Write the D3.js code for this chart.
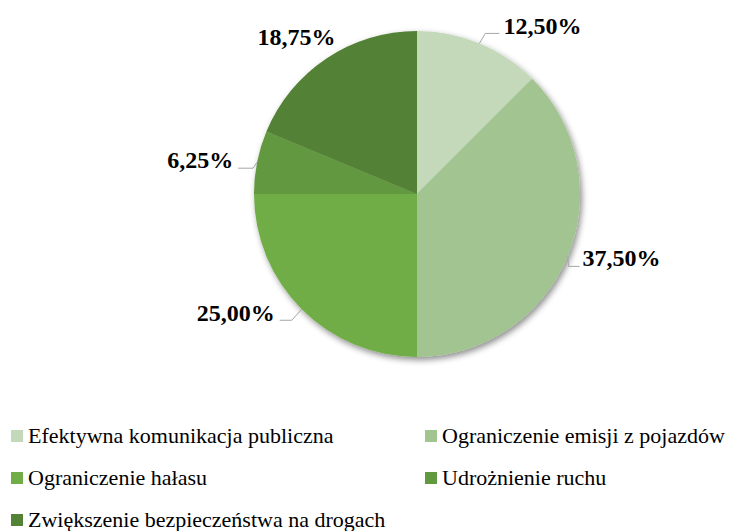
<!DOCTYPE html>
<html lang="pl">
<head>
<meta charset="utf-8">
<script src="https://cdn.jsdelivr.net/npm/d3@7"></script>
<style>
  body { margin: 0; background: #fff; }
  #chart { position: relative; width: 751px; height: 531px; }
  #chart svg { position: absolute; left: 0; top: 0; display: block; }
  .txt { position: absolute; white-space: nowrap; color: #000; line-height: 1;
         font-family: "Liberation Serif", "Times New Roman", serif; }
</style>
</head>
<body>
<div id="chart"></div>
<script>
// dane wykresu
const categories = [
    "Efektywna komunikacja publiczna",
    "Ograniczenie emisji z pojazdów",
    "Ograniczenie hałasu",
    "Udrożnienie ruchu",
    "Zwiększenie bezpieczeństwa na drogach"
];
const values = [12.5, 37.5, 25.0, 6.25, 18.75];
const labels = ["12,50%", "37,50%", "25,00%", "6,25%", "18,75%"];
const colors = ["#c4d9b9", "#a2c490", "#70ad47", "#62993f", "#538135"];

const width = 751, height = 531;
const cx = 417, cy = 194, radius = 163;

const root = d3.select("#chart");
const svg = root.append("svg")
    .attr("width", width)
    .attr("height", height);

// cien pod wykresem
const f = svg.append("defs").append("filter").attr("id", "shadow")
    .attr("x", "-20%").attr("y", "-20%").attr("width", "140%").attr("height", "140%");
f.append("feDropShadow")
    .attr("dx", 2).attr("dy", 3)
    .attr("stdDeviation", 3)
    .attr("flood-color", "#000")
    .attr("flood-opacity", 0.45);

const g = svg.append("g").attr("transform", "translate(" + cx + "," + cy + ")");

const pie = d3.pie().sort(null).value(d => d);
const arc = d3.arc().innerRadius(0).outerRadius(radius);
const arcs = pie(values);

g.append("g")
    .attr("filter", "url(#shadow)")
    .selectAll("path")
    .data(arcs)
    .enter()
    .append("path")
    .attr("fill", (d, i) => colors[i])
    .attr("d", arc);

// linie odniesienia i etykiety (przesuniecia wzgledem punktu na obwodzie)
const leader = [
    { elbow: [6, -10], end: [20, -10], text: [24, -17], anchor: "start" },
    { elbow: [1, 10], end: [12, 10], text: [15, 2], anchor: "start" },
    { elbow: [-10, 11], end: [-22, 11], text: [-27, 4], anchor: "end" },
    { elbow: [-4, 6], end: [-19, 6], text: [-24, -2], anchor: "end" },
    null
];
const labelOffset5 = [-30, -21];

arcs.forEach((d, i) => {
    const mid = (d.startAngle + d.endAngle) / 2;
    const px = radius * Math.sin(mid), py = -radius * Math.cos(mid);
    const L = leader[i];
    if (L) {
        g.append("polyline")
            .attr("points", [[px, py], [px + L.elbow[0], py + L.elbow[1]], [px + L.end[0], py + L.end[1]]].map(p => p.join(",")).join(" "))
            .attr("fill", "none")
            .attr("stroke", "#a6a6a6")
            .attr("stroke-width", 1);
    }
    const t = L ? L.text : labelOffset5;
    const anchor = L ? L.anchor : "middle";
    const shift = anchor === "end" ? "-100%" : anchor === "middle" ? "-50%" : "0";
    root.append("div")
        .attr("class", "txt")
        .style("left", (cx + px + t[0]) + "px")
        .style("top", (cy + py + t[1]) + "px")
        .style("transform", "translate(" + shift + ", -50%)")
        .style("font-weight", "bold")
        .style("font-size", "24px")
        .text(labels[i]);
});

// legenda
const colX = [11, 425];
const rowY = [436, 478, 520];
categories.forEach((c, i) => {
    const x = colX[i % 2], y = rowY[Math.floor(i / 2)];
    svg.append("rect")
        .attr("x", x).attr("y", y - 6)
        .attr("width", 12).attr("height", 12)
        .attr("fill", colors[i]);
    root.append("div")
        .attr("class", "txt")
        .style("left", (x + 17) + "px")
        .style("top", y + "px")
        .style("transform", "translate(0, -50%)")
        .style("font-size", "22px")
        .text(c);
});
</script>
</body>
</html>
